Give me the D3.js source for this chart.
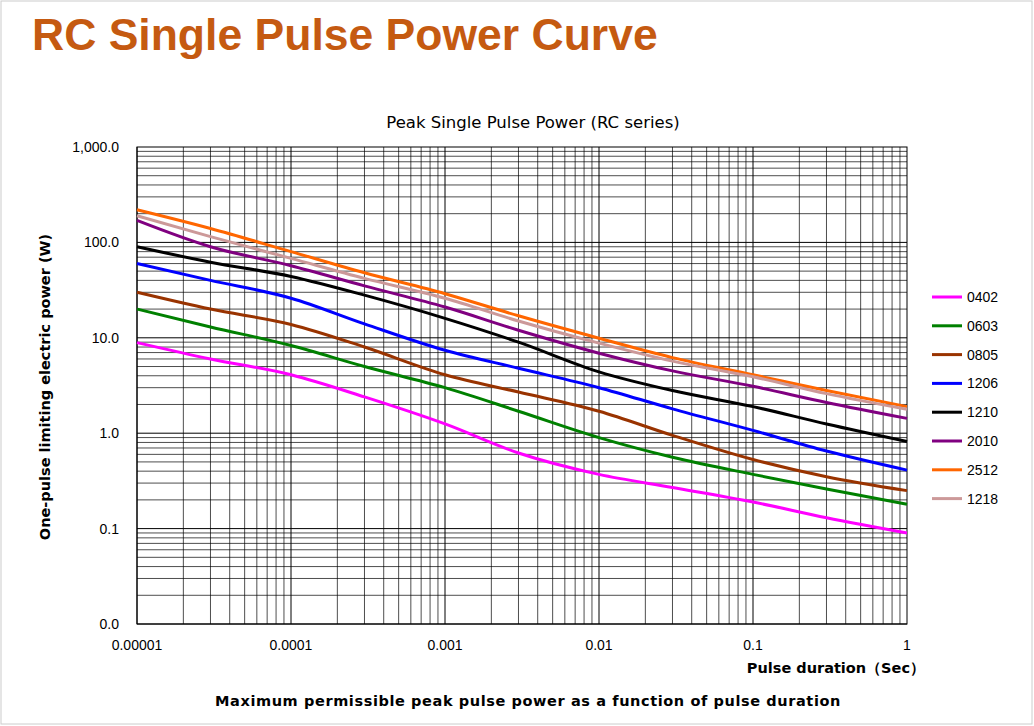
<!DOCTYPE html><html><head><meta charset="utf-8"><script src="https://cdn.jsdelivr.net/npm/d3@7"></script>
<style>body{margin:0;background:#fff;font-family:"Liberation Sans",Arial,sans-serif}</style></head><body>
<svg id="c" width="1034" height="726"></svg>
<script>
const durations=[0.00001,0.00003,0.0001,0.0003,0.001,0.003,0.01,0.03,0.1,0.3,1];
const s0402=[8.9,6.0,4.1,2.4,1.25,0.62,0.37,0.27,0.19,0.13,0.09];
const s0603=[20,13,8.3,5.0,3.0,1.7,0.9,0.56,0.37,0.26,0.18];
const s0805=[30,20,13.8,8.0,4.1,2.7,1.7,0.95,0.53,0.35,0.25];
const s1206=[60,40,26,14,7.4,4.8,3.0,1.8,1.07,0.65,0.41];
const s1210=[90,62,44,28,16,9,4.4,2.8,1.9,1.25,0.82];
const s2010=[170,90,57,35,21,12,6.9,4.5,3.1,2.1,1.43];
const s2512=[220,140,80,48,29,17,9.9,6.2,4.1,2.8,1.9];
const s1218=[190,115,68,42,26,15,8.8,5.7,3.9,2.6,1.78];
const names=["0402","0603","0805","1206","1210","2010","2512","1218"];
const colors=["#ff00ff","#008000","#993300","#0000ff","#000000","#800080","#ff6600","#cc9999"];
const series=[s0402,s0603,s0805,s1206,s1210,s2010,s2512,s1218];
const yTicks=[0.01,0.1,1,10,100,1000];
const yLabels=["0.0","0.1","1.0","10.0","100.0","1,000.0"];
const xTicks=[0.00001,0.0001,0.001,0.01,0.1,1];
const xLabels=["0.00001","0.0001","0.001","0.01","0.1","1"];

const svg=d3.select("#c");
const DJ='"DejaVu Sans",sans-serif';
svg.append("rect").attr("x",1).attr("y",1).attr("width",1031).attr("height",723).attr("fill","#fff").attr("stroke","#ccc");
svg.append("text").attr("x",32).attr("y",50).attr("font-size",44.5).attr("font-weight","bold").attr("fill","#c55a11").text("RC Single Pulse Power Curve");
const L=137,R=907,T=147,B=624;
const x=d3.scaleLog().domain([1e-5,1]).range([L,R]);
const y=d3.scaleLog().domain([0.01,1000]).range([B,T]);
const g=svg.append("g");
for(let e=-5;e<0;e++)for(let k=1;k<10;k++){const v=k*Math.pow(10,e);
 g.append("line").attr("x1",x(v)).attr("x2",x(v)).attr("y1",T).attr("y2",B).attr("stroke","#000").attr("stroke-width",k==1?1:0.7);}
for(let e=-2;e<3;e++)for(let k=1;k<10;k++){const v=k*Math.pow(10,e);
 g.append("line").attr("x1",L).attr("x2",R).attr("y1",y(v)).attr("y2",y(v)).attr("stroke","#000").attr("stroke-width",k==1?1:0.7);}
g.append("rect").attr("x",L).attr("y",T).attr("width",R-L).attr("height",B-T).attr("fill","none").attr("stroke","#000");
yTicks.forEach((v,i)=>svg.append("text").attr("x",L-18).attr("y",y(v)+5).attr("text-anchor","end").attr("font-size",14).text(yLabels[i]));
xTicks.forEach((v,i)=>svg.append("text").attr("x",x(v)).attr("y",B+26).attr("text-anchor","middle").attr("font-size",14).text(xLabels[i]));
svg.append("text").attr("x",533).attr("y",128).attr("text-anchor","middle").attr("font-family",DJ).attr("font-size",16.5).text("Peak Single Pulse Power (RC series)");
svg.append("text").attr("x",925).attr("y",673).attr("text-anchor","end").attr("font-family",DJ).attr("font-size",14.5).attr("font-weight","bold").text("Pulse duration（Sec）");
svg.append("text").attr("x",528).attr("y",706).attr("text-anchor","middle").attr("font-family",DJ).attr("font-size",14.5).attr("font-weight","bold").attr("letter-spacing",0.6).text("Maximum permissible peak pulse power as a function of pulse duration");
svg.append("text").attr("transform","translate(50,387) rotate(-90)").attr("text-anchor","middle").attr("font-family",DJ).attr("font-size",14.5).attr("font-weight","bold").text("One-pulse limiting electric power (W)");
const line=d3.line().x((d,i)=>x(durations[i])).y(d=>y(d)).curve(d3.curveMonotoneX);
series.forEach((s,i)=>svg.append("path").attr("d",line(s)).attr("fill","none").attr("stroke",colors[i]).attr("stroke-width",3));
names.forEach((n,i)=>{const yy=297+i*28.8;
 svg.append("line").attr("x1",932).attr("x2",962).attr("y1",yy).attr("y2",yy).attr("stroke",colors[i]).attr("stroke-width",3);
 svg.append("text").attr("x",967).attr("y",yy+5).attr("font-size",14).text(n);});
</script></body></html>
